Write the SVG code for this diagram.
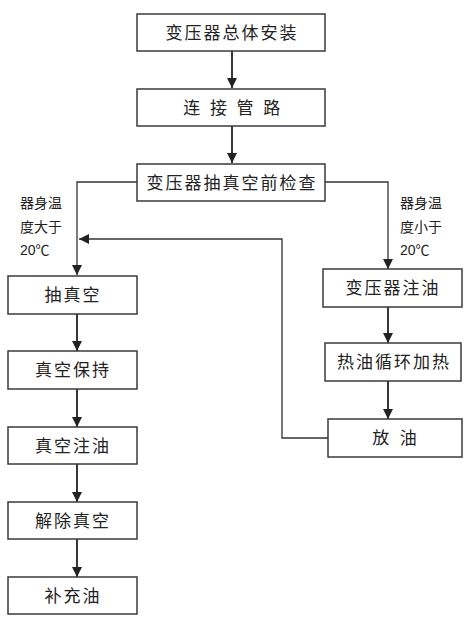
<svg xmlns="http://www.w3.org/2000/svg" width="471" height="619" viewBox="0 0 471 619">
<defs>
<marker id="ah" viewBox="0 0 10 10" refX="10" refY="5" markerWidth="10" markerHeight="10" markerUnits="userSpaceOnUse" orient="auto">
<path d="M0,0 L10,5 L0,10 z" fill="#222"/>
</marker>
<style>
.box{fill:#fff;stroke:#3a3a3a;stroke-width:1.5}
.t{font-family:"Liberation Sans","Noto Sans CJK SC",sans-serif;font-size:17px;fill:#222;text-anchor:middle;letter-spacing:2px}
.l{font-family:"Liberation Sans","Noto Sans CJK SC",sans-serif;font-size:14px;fill:#222}
.c{fill:none;stroke:#222;stroke-width:1.8}
.f{fill:none;stroke:#333;stroke-width:1.3}
</style>
</defs>
<rect width="471" height="619" fill="#fff"/>
<g id="connectors">
<line class="c" x1="232" y1="51" x2="232" y2="88" marker-end="url(#ah)"/>
<line class="c" x1="232" y1="126" x2="232" y2="163" marker-end="url(#ah)"/>
<polyline class="f" points="137,182 77,182 77,275" marker-end="url(#ah)"/>
<polyline class="f" points="325,182 388,182 388,269" marker-end="url(#ah)"/>
<line class="c" x1="388" y1="307" x2="388" y2="343" marker-end="url(#ah)"/>
<line class="c" x1="388" y1="381" x2="388" y2="419" marker-end="url(#ah)"/>
<polyline class="f" points="328,438 282,438 282,239 79,239" marker-end="url(#ah)"/>
<line class="c" x1="77" y1="314" x2="77" y2="351" marker-end="url(#ah)"/>
<line class="c" x1="77" y1="389" x2="77" y2="427" marker-end="url(#ah)"/>
<line class="c" x1="77" y1="464" x2="77" y2="502" marker-end="url(#ah)"/>
<line class="c" x1="77" y1="539" x2="77" y2="577" marker-end="url(#ah)"/>
</g>
<g id="n1"><rect class="box" x="137" y="14" width="188" height="37"/><text class="t" x="232" y="39">变压器总体安装</text></g>
<g id="n2"><rect class="box" x="137" y="89" width="188" height="37"/><text class="t" x="233" y="114" style="letter-spacing:2.5px">连 接 管 路</text></g>
<g id="n3"><rect class="box" x="137" y="164" width="188" height="37"/><text class="t" x="232" y="189">变压器抽真空前检查</text></g>
<g id="lbl-left"><text class="l" x="20" y="208">器身温</text><text class="l" x="20" y="232">度大于</text><text class="l" x="20" y="255">20℃</text></g>
<g id="lbl-right"><text class="l" x="400" y="208">器身温</text><text class="l" x="400" y="232">度小于</text><text class="l" x="400" y="255">20℃</text></g>
<g id="n4"><rect class="box" x="8" y="276" width="129" height="38"/><text class="t" x="73" y="301">抽真空</text></g>
<g id="n5"><rect class="box" x="323" y="269" width="139" height="38"/><text class="t" x="393" y="294">变压器注油</text></g>
<g id="n6"><rect class="box" x="325" y="343" width="136" height="38"/><text class="t" x="394" y="368">热油循环加热</text></g>
<g id="n7"><rect class="box" x="328" y="419" width="134" height="38"/><text class="t" x="396" y="444" style="letter-spacing:3px">放  油</text></g>
<g id="n8"><rect class="box" x="8" y="351" width="129" height="38"/><text class="t" x="73" y="376">真空保持</text></g>
<g id="n9"><rect class="box" x="8" y="427" width="129" height="37"/><text class="t" x="73" y="452">真空注油</text></g>
<g id="n10"><rect class="box" x="8" y="502" width="129" height="37"/><text class="t" x="73" y="527">解除真空</text></g>
<g id="n11"><rect class="box" x="8" y="577" width="129" height="37"/><text class="t" x="73" y="602">补充油</text></g>
</svg>
